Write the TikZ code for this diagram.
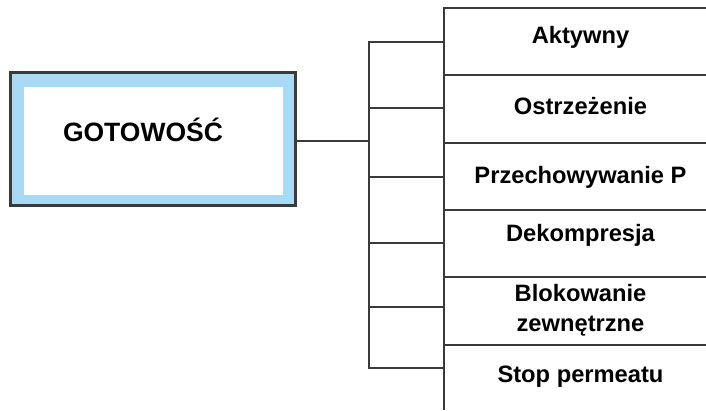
\documentclass[tikz,border=0pt]{standalone}
\usepackage{fontspec}
\setmainfont{Liberation Sans}
\usetikzlibrary{positioning}
\definecolor{edgegray}{HTML}{3A3A3A}
\definecolor{frameblue}{HTML}{A8DAF5}
\begin{document}
\begin{tikzpicture}[x=1pt,y=-1pt,
    line/.style={draw=edgegray,line width=2.2pt},
    lbl/.style={font=\bfseries\fontsize{23.7}{30}\selectfont,align=center,inner sep=0pt}]
  \useasboundingbox (0,0) rectangle (706,410);
  % main state box
  \node[draw=edgegray,line width=3pt,fill=frameblue,minimum width=285pt,minimum height=133pt] (0) at (153,139) {};
  \node[fill=white,minimum width=259pt,minimum height=108pt,inner sep=0pt] (0i) at (153.5,141) {};
  \node[font=\bfseries\fontsize{26.5}{30}\selectfont,inner sep=0pt] (0t) at (143,130) {GOTOWOŚĆ};
  % sub states
  \node[lbl] (1) at (580.5,37)  {Aktywny};
  \node[lbl] (2) at (580.5,106) {Ostrzeżenie};
  \node[lbl] (3) at (580.5,177) {Przechowywanie P};
  \node[lbl] (4) at (580.5,235) {Dekompresja};
  \node[lbl] (5) at (580.5,310) {Blokowanie\\zewnętrzne};
  \node[lbl] (6) at (580.5,377) {Stop permeatu};
  % column rules
  \coordinate (top) at (444,8);
  \draw[line] (top -| 706,0) -- (top) -- (444,410);
  \foreach \y in {75,143,210,277,345}
    \draw[line] (444,\y) -- (706,\y);
  % tree
  \coordinate (t) at (369,141);
  \foreach \i/\y in {1/42,2/108,3/177,4/243,5/307,6/368}
    \coordinate (e\i) at (444,\y);
  \draw[line] (0.east |- t) -- (t);
  \draw[line] (e1) -- (e1 -| t) -- (e6 -| t) -- (e6);
  \foreach \i in {2,...,5}
    \draw[line] (e\i -| t) -- (e\i);
\end{tikzpicture}
\end{document}
